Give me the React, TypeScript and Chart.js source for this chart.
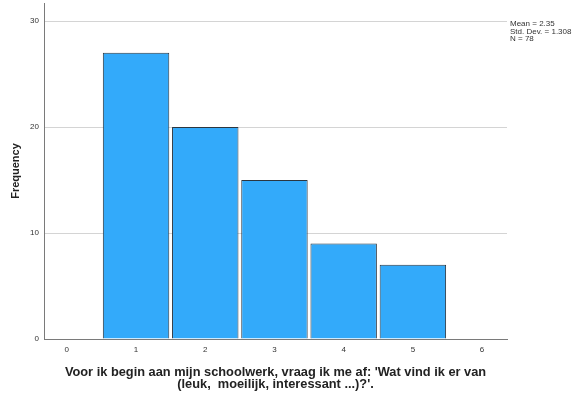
import React, { useEffect, useRef } from "react";
import { Chart, registerables } from "chart.js";

Chart.register(...registerables);

const categories = [1, 2, 3, 4, 5];
const frequencies = [27, 20, 15, 9, 7];
const xTicks = [0, 1, 2, 3, 4, 5, 6];
const yTicks = [0, 10, 20, 30];
const statsLines = ["Mean = 2.35", "Std. Dev. = 1.308", "N = 78"];
const xTitle = ["Voor ik begin aan mijn schoolwerk, vraag ik me af: 'Wat vind ik er van", "(leuk,  moeilijk, interessant ...)?'."];
const yTitle = "Frequency";

const FONT = "'Liberation Sans', Arial, sans-serif";

export default function App() {
  const ref = useRef<HTMLCanvasElement | null>(null);

  useEffect(() => {
    document.body.style.margin = "0";
    const canvas = ref.current!;
    const statsPlugin = {
      id: "stats",
      afterDraw(chart: any) {
        const ctx = chart.ctx;
        ctx.save();
        ctx.fillStyle = "#333";
        ctx.font = `8px ${FONT}`;
        ctx.textAlign = "left";
        ctx.textBaseline = "alphabetic";
        statsLines.forEach((s, i) => ctx.fillText(s, 510, 26 + i * 7.5));
        ctx.restore();
      },
    };
    const chart = new Chart(canvas, {
      type: "bar",
      data: {
        datasets: [
          {
            data: categories.map((c, i) => ({ x: c, y: frequencies[i] })),
            backgroundColor: "#33aafa",
            borderColor: "#2b3640",
            borderWidth: 1,
            barPercentage: 0.96,
            categoryPercentage: 1,
          },
        ],
      },
      options: {
        animation: false,
        responsive: false,
        maintainAspectRatio: false,
        layout: { padding: { top: 3, right: 75, left: 0, bottom: 0 } },
        plugins: { legend: { display: false }, tooltip: { enabled: false } },
        scales: {
          x: {
            type: "linear",
            offset: false,
            min: -0.33,
            max: 6.36,
            afterBuildTicks: (s: any) => {
              s.ticks = xTicks.map((v) => ({ value: v }));
            },
            afterFit: (s: any) => {
              s.height = 60;
              s.paddingLeft = 0;
              s.paddingRight = 0;
            },
            grid: { display: false, drawTicks: false, offset: false },
            border: { display: true, color: "#7a7a7a", width: 1 },
            ticks: { color: "#333", font: { family: FONT, size: 8 }, padding: 6, maxRotation: 0 },
            title: {
              display: true,
              text: xTitle,
              color: "#222",
              font: { family: FONT, size: 12.8, weight: "bold", lineHeight: 0.95 },
              padding: { top: 3, bottom: 8 },
            },
          },
          y: {
            min: 0,
            max: 31.7,
            afterBuildTicks: (s: any) => {
              s.ticks = yTicks.map((v) => ({ value: v }));
            },
            afterFit: (s: any) => {
              s.width = 44;
              s.paddingTop = 0;
              s.paddingBottom = 0;
            },
            grid: { color: "#d4d4d4", drawTicks: false, lineWidth: 1 },
            border: { display: true, color: "#7a7a7a", width: 1 },
            ticks: { color: "#333", font: { family: FONT, size: 8 }, padding: 5 },
            title: {
              display: true,
              text: yTitle,
              color: "#222",
              font: { family: FONT, size: 11, weight: "bold" },
              padding: { top: 9, bottom: 0 },
            },
          },
        },
      },
      plugins: [statsPlugin],
    } as any);
    return () => chart.destroy();
  }, []);

  return (
    <div style={{ position: "absolute", left: 0, top: 0, width: 582, height: 399, background: "#fff" }}>
      <canvas ref={ref} width={582} height={399} style={{ width: 582, height: 399 }} />
    </div>
  );
}
